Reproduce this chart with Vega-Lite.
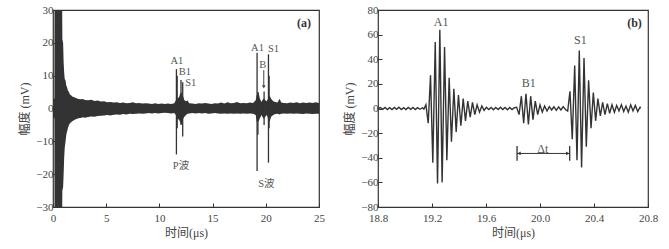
{
 "$schema": "https://vega.github.io/schema/vega-lite/v6.json",
 "background": "white",
 "padding": {"left": 18, "top": 3, "right": 5, "bottom": 3},
 "spacing": 17,
 "config": {
  "view": {"stroke": "#333", "strokeWidth": 1.2},
  "axis": {"labelFont": "Liberation Serif", "labelFontSize": 11, "labelColor": "#444", "titleFont": "Liberation Serif, Noto Sans CJK SC", "titleFontSize": 12, "titleFontWeight": "normal", "titleColor": "#444", "domain": false, "grid": false, "tickSize": -4, "tickColor": "#333", "labelPadding": 4, "labelOverlap": false, "labelFlush": false, "tickCount": 12},
  "axisX": {"labelPadding": 9},
  "text": {"font": "Liberation Serif, Noto Sans CJK SC", "fontSize": 11, "color": "#555"}
 },
 "hconcat": [
  {
   "width": 266, "height": 197,
   "layer": [
    {
     "data": {"values": [
      {"t":0.00,"lo":-2.5,"hi":2.5},{"t":0.08,"lo":-3,"hi":3.2},{"t":0.13,"lo":-3,"hi":3},{"t":0.14,"lo":-32,"hi":32},{"t":0.86,"lo":-32,"hi":32},{"t":0.88,"lo":-25,"hi":21},{"t":0.95,"lo":-24,"hi":20},{"t":1.00,"lo":-20,"hi":14},{"t":1.05,"lo":-15,"hi":11},{"t":1.10,"lo":-12,"hi":9},{"t":1.18,"lo":-10,"hi":8.5},{"t":1.25,"lo":-8,"hi":7},{"t":1.32,"lo":-7,"hi":6.5},{"t":1.40,"lo":-6,"hi":5.5},{"t":1.50,"lo":-5,"hi":5},{"t":1.60,"lo":-4.5,"hi":4.2},{"t":1.70,"lo":-4.2,"hi":4},{"t":1.85,"lo":-3.8,"hi":3.6},{"t":2.00,"lo":-3.5,"hi":3.4},{"t":2.20,"lo":-3.2,"hi":3.1},{"t":2.40,"lo":-3,"hi":2.9},{"t":2.60,"lo":-2.9,"hi":2.8},{"t":2.80,"lo":-2.7,"hi":2.9},{"t":3.00,"lo":-2.8,"hi":2.6},{"t":3.30,"lo":-2.6,"hi":2.5},{"t":3.60,"lo":-2.4,"hi":2.7},{"t":3.90,"lo":-2.5,"hi":2.3},{"t":4.20,"lo":-2.3,"hi":2.4},{"t":4.50,"lo":-2.2,"hi":2.1},{"t":4.80,"lo":-2.1,"hi":2.2},{"t":5.10,"lo":-2.0,"hi":1.9},{"t":5.40,"lo":-2.1,"hi":2.0},{"t":5.70,"lo":-1.9,"hi":1.8},{"t":6.00,"lo":-1.8,"hi":1.9},{"t":6.30,"lo":-1.9,"hi":1.7},{"t":6.60,"lo":-1.7,"hi":1.8},{"t":6.90,"lo":-1.8,"hi":1.6},{"t":7.20,"lo":-1.6,"hi":1.7},{"t":7.50,"lo":-1.7,"hi":1.9},{"t":7.80,"lo":-1.6,"hi":1.6},{"t":8.10,"lo":-1.5,"hi":1.7},{"t":8.40,"lo":-1.6,"hi":1.5},{"t":8.70,"lo":-1.5,"hi":1.6},{"t":9.00,"lo":-1.4,"hi":1.5},{"t":9.30,"lo":-1.5,"hi":1.4},{"t":9.60,"lo":-1.4,"hi":1.6},{"t":9.90,"lo":-1.5,"hi":1.4},{"t":10.20,"lo":-1.4,"hi":1.5},{"t":10.50,"lo":-1.3,"hi":1.4},{"t":10.80,"lo":-1.4,"hi":1.5},{"t":11.10,"lo":-1.5,"hi":1.4},{"t":11.40,"lo":-1.4,"hi":1.6},{"t":11.55,"lo":-2,"hi":2.5},{"t":11.62,"lo":-4,"hi":4},{"t":11.70,"lo":-3,"hi":3},{"t":11.85,"lo":-3.5,"hi":3.5},{"t":11.95,"lo":-4,"hi":4.5},{"t":12.05,"lo":-5,"hi":5},{"t":12.15,"lo":-4,"hi":4},{"t":12.25,"lo":-3,"hi":3.5},{"t":12.35,"lo":-2.5,"hi":2.5},{"t":12.50,"lo":-2,"hi":2.2},{"t":12.65,"lo":-1.6,"hi":2.4},{"t":12.80,"lo":-1.5,"hi":1.6},{"t":13.10,"lo":-1.4,"hi":1.5},{"t":13.40,"lo":-1.5,"hi":1.4},{"t":13.70,"lo":-1.4,"hi":1.6},{"t":14.00,"lo":-1.5,"hi":1.5},{"t":14.30,"lo":-1.4,"hi":1.7},{"t":14.60,"lo":-1.6,"hi":1.5},{"t":14.90,"lo":-1.5,"hi":1.4},{"t":15.20,"lo":-1.4,"hi":1.6},{"t":15.50,"lo":-1.5,"hi":1.5},{"t":15.80,"lo":-1.6,"hi":1.8},{"t":16.10,"lo":-1.5,"hi":1.5},{"t":16.40,"lo":-1.6,"hi":1.9},{"t":16.70,"lo":-1.5,"hi":1.6},{"t":17.00,"lo":-1.6,"hi":1.7},{"t":17.30,"lo":-1.5,"hi":2.0},{"t":17.60,"lo":-1.6,"hi":1.6},{"t":17.90,"lo":-1.5,"hi":1.7},{"t":18.20,"lo":-1.6,"hi":1.6},{"t":18.50,"lo":-1.5,"hi":1.8},{"t":18.80,"lo":-1.6,"hi":1.7},{"t":19.05,"lo":-2,"hi":2.5},{"t":19.15,"lo":-4,"hi":4},{"t":19.30,"lo":-4,"hi":5},{"t":19.45,"lo":-3,"hi":3},{"t":19.60,"lo":-2,"hi":2},{"t":19.75,"lo":-3,"hi":3},{"t":19.85,"lo":-3,"hi":3},{"t":19.95,"lo":-2.5,"hi":2.5},{"t":20.10,"lo":-2,"hi":2.2},{"t":20.20,"lo":-3,"hi":3},{"t":20.35,"lo":-4,"hi":4},{"t":20.50,"lo":-2.5,"hi":3},{"t":20.70,"lo":-2,"hi":2.2},{"t":20.90,"lo":-1.7,"hi":2},{"t":21.10,"lo":-1.6,"hi":1.8},{"t":21.30,"lo":-1.8,"hi":3},{"t":21.45,"lo":-1.6,"hi":1.8},{"t":21.70,"lo":-1.5,"hi":1.7},{"t":22.00,"lo":-1.6,"hi":1.6},{"t":22.30,"lo":-1.5,"hi":1.8},{"t":22.60,"lo":-1.6,"hi":1.7},{"t":22.90,"lo":-1.5,"hi":1.9},{"t":23.20,"lo":-1.6,"hi":1.6},{"t":23.50,"lo":-1.7,"hi":1.8},{"t":23.80,"lo":-1.5,"hi":1.7},{"t":24.10,"lo":-1.6,"hi":1.8},{"t":24.40,"lo":-1.7,"hi":1.7},{"t":24.70,"lo":-1.6,"hi":1.9},{"t":25.00,"lo":-1.6,"hi":1.7}
     ]},
     "mark": {"type": "area", "color": "#333", "clip": true},
     "encoding": {
      "x": {"field": "t", "type": "quantitative", "scale": {"domain": [0, 25], "nice": false}, "axis": {"values": [0, 5, 10, 15, 20, 25], "tickCount": 12, "title": "时间(μs)", "labelOverlap": false}},
      "y": {"field": "lo", "type": "quantitative", "scale": {"domain": [-30, 30], "nice": false}, "axis": {"values": [-30, -20, -10, 0, 10, 20, 30], "tickCount": 12, "title": "幅度 (mV)", "labelOverlap": false}},
      "y2": {"field": "hi"}
     }
    },
    {
     "data": {"values": [
      {"t":11.60,"lo":-14,"hi":12},{"t":11.67,"lo":-6,"hi":10},{"t":12.03,"lo":-5,"hi":8.7},{"t":12.19,"lo":-8.5,"hi":8},{"t":19.18,"lo":-19,"hi":17},{"t":19.26,"lo":-8,"hi":5},{"t":19.84,"lo":-5,"hi":5.2},{"t":20.25,"lo":-16.5,"hi":16.5},{"t":20.31,"lo":-6,"hi":10}
     ]},
     "mark": {"type": "rule", "color": "#333", "strokeWidth": 1.3},
     "encoding": {"x": {"field": "t", "type": "quantitative"}, "y": {"field": "lo", "type": "quantitative"}, "y2": {"field": "hi"}}
    },
    {
     "data": {"values": [{"t": 19.81, "lo": 6.8, "hi": 11.7}]},
     "mark": {"type": "rule", "color": "#444", "strokeWidth": 1},
     "encoding": {"x": {"field": "t", "type": "quantitative"}, "y": {"field": "lo", "type": "quantitative"}, "y2": {"field": "hi"}}
    },
    {
     "data": {"values": [{"t": 19.81, "lo": 6.6}]},
     "mark": {"type": "point", "shape": "triangle-down", "filled": true, "color": "#444", "size": 14, "opacity": 1},
     "encoding": {"x": {"field": "t", "type": "quantitative"}, "y": {"field": "lo", "type": "quantitative"}}
    },
    {
     "data": {"values": [
      {"t":11.65,"lo":14.6,"label":"A1"},{"t":12.40,"lo":11.0,"label":"B1"},{"t":12.95,"lo":7.9,"label":"S1"},{"t":12.03,"lo":-17.4,"label":"P波"},{"t":19.22,"lo":18.3,"label":"A1"},{"t":20.72,"lo":18.0,"label":"S1"},{"t":19.72,"lo":13.2,"label":"B"},{"t":20.06,"lo":-23,"label":"S波"}
     ]},
     "mark": {"type": "text", "baseline": "middle", "align": "center", "fontSize": 10.5},
     "encoding": {"x": {"field": "t", "type": "quantitative"}, "y": {"field": "lo", "type": "quantitative"}, "text": {"field": "label"}}
    },
    {
     "data": {"values": [{"t": 23.59, "lo": 26, "label": "(a)"}]},
     "mark": {"type": "text", "baseline": "middle", "align": "center", "fontSize": 12, "fontWeight": "bold", "color": "#333"},
     "encoding": {"x": {"field": "t", "type": "quantitative"}, "y": {"field": "lo", "type": "quantitative"}, "text": {"field": "label"}}
    }
   ]
  },
  {
   "width": 270, "height": 197,
   "layer": [
    {
     "data": {"values": [
      {"t":18.800,"v":0},{"t":18.817,"v":0.8},{"t":18.835,"v":-0.7},{"t":18.852,"v":0.9},{"t":18.869,"v":-0.8},{"t":18.886,"v":0.7},{"t":18.904,"v":-0.9},{"t":18.921,"v":0.8},{"t":18.938,"v":-0.7},{"t":18.955,"v":1.0},{"t":18.973,"v":-0.8},{"t":18.990,"v":0.6},{"t":19.007,"v":-0.9},{"t":19.024,"v":0.8},{"t":19.042,"v":-0.7},{"t":19.059,"v":0.9},{"t":19.076,"v":-0.8},{"t":19.093,"v":0.7},{"t":19.111,"v":-0.6},{"t":19.128,"v":0.6},{"t":19.140,"v":-0.5},
      {"t":19.155,"v":3},{"t":19.172,"v":-12},{"t":19.189,"v":27},{"t":19.206,"v":-44},{"t":19.224,"v":54},{"t":19.241,"v":-61},{"t":19.258,"v":64},{"t":19.275,"v":-60},{"t":19.293,"v":50},{"t":19.310,"v":-42},{"t":19.327,"v":25},{"t":19.344,"v":-27},{"t":19.362,"v":16},{"t":19.379,"v":-19},{"t":19.396,"v":11},{"t":19.414,"v":-14},{"t":19.431,"v":8},{"t":19.448,"v":-10},{"t":19.465,"v":6},{"t":19.483,"v":-7},{"t":19.500,"v":5},{"t":19.517,"v":-5},{"t":19.534,"v":3},{"t":19.552,"v":-3},{"t":19.569,"v":2},{"t":19.586,"v":-1.5},
      {"t":19.603,"v":1},{"t":19.620,"v":-0.8},{"t":19.638,"v":0.9},{"t":19.655,"v":-1},{"t":19.672,"v":0.8},{"t":19.690,"v":-0.9},{"t":19.707,"v":1},{"t":19.724,"v":-0.8},{"t":19.741,"v":0.9},{"t":19.759,"v":-1},{"t":19.776,"v":0.8},{"t":19.793,"v":-0.9},{"t":19.810,"v":0.7},
      {"t":19.827,"v":1},{"t":19.845,"v":-5},{"t":19.862,"v":10},{"t":19.879,"v":-12},{"t":19.896,"v":12},{"t":19.914,"v":-13},{"t":19.931,"v":10},{"t":19.948,"v":-9},{"t":19.965,"v":6},{"t":19.983,"v":-5},{"t":20.000,"v":3},{"t":20.017,"v":-3},{"t":20.034,"v":2},{"t":20.052,"v":-2},
      {"t":20.069,"v":1.5},{"t":20.086,"v":-1.2},{"t":20.103,"v":1.4},{"t":20.121,"v":-1.5},{"t":20.138,"v":1.3},{"t":20.155,"v":-1.2},{"t":20.172,"v":1.5},{"t":20.190,"v":-1},
      {"t":20.205,"v":-2},{"t":20.222,"v":14},{"t":20.239,"v":-25},{"t":20.257,"v":35},{"t":20.274,"v":-42},{"t":20.291,"v":47},{"t":20.308,"v":-48},{"t":20.326,"v":41},{"t":20.343,"v":-31},{"t":20.360,"v":23},{"t":20.378,"v":-16},{"t":20.395,"v":13},{"t":20.412,"v":-10},{"t":20.429,"v":8},{"t":20.447,"v":-6},{"t":20.464,"v":5},{"t":20.481,"v":-5},{"t":20.499,"v":4},{"t":20.516,"v":-4},
      {"t":20.533,"v":3},{"t":20.551,"v":-3},{"t":20.568,"v":2.5},{"t":20.585,"v":-2},{"t":20.603,"v":3},{"t":20.620,"v":-2.5},{"t":20.637,"v":2},{"t":20.654,"v":-3},{"t":20.672,"v":3},{"t":20.689,"v":-2},{"t":20.706,"v":2.5},{"t":20.724,"v":-2.5},{"t":20.741,"v":1},{"t":20.745,"v":0}
     ]},
     "mark": {"type": "line", "color": "#333", "strokeWidth": 1.4},
     "encoding": {
      "x": {"field": "t", "type": "quantitative", "scale": {"domain": [18.8, 20.8], "nice": false}, "axis": {"values": [18.8, 19.2, 19.6, 20.0, 20.4, 20.8], "tickCount": 12, "format": ".1f", "title": "时间(μs)", "labelOverlap": false}},
      "y": {"field": "v", "type": "quantitative", "scale": {"domain": [-80, 80], "nice": false}, "axis": {"values": [-80, -60, -40, -20, 0, 20, 40, 60, 80], "tickCount": 12, "title": "幅度 (mV)", "labelOverlap": false}}
     }
    },
    {
     "data": {"values": [{"t": 19.83, "v": -30.5, "v2": -42.5}, {"t": 20.22, "v": -30.5, "v2": -42.5}]},
     "mark": {"type": "rule", "color": "#333", "strokeWidth": 1.3},
     "encoding": {"x": {"field": "t", "type": "quantitative"}, "y": {"field": "v", "type": "quantitative"}, "y2": {"field": "v2"}}
    },
    {
     "data": {"values": [{"t": 19.83, "t2": 20.22, "v": -36.5}]},
     "mark": {"type": "rule", "color": "#333", "strokeWidth": 1},
     "encoding": {"x": {"field": "t", "type": "quantitative"}, "x2": {"field": "t2"}, "y": {"field": "v", "type": "quantitative"}}
    },
    {
     "data": {"values": [{"t": 19.845, "v": -36.5, "s": "triangle-left"}, {"t": 20.205, "v": -36.5, "s": "triangle-right"}]},
     "mark": {"type": "point", "filled": true, "color": "#333", "size": 14, "opacity": 1},
     "encoding": {"x": {"field": "t", "type": "quantitative"}, "y": {"field": "v", "type": "quantitative"}, "shape": {"field": "s", "type": "nominal", "scale": null}}
    },
    {
     "data": {"values": [
      {"t":19.267,"v":70.5,"label":"A1"},{"t":19.916,"v":21,"label":"B1"},{"t":20.299,"v":55.6,"label":"S1"},{"t":20.02,"v":-32.9,"label":"Δt"}
     ]},
     "mark": {"type": "text", "baseline": "middle", "align": "center", "fontSize": 12},
     "encoding": {"x": {"field": "t", "type": "quantitative"}, "y": {"field": "v", "type": "quantitative"}, "text": {"field": "label"}}
    },
    {
     "data": {"values": [{"t": 20.70, "v": 69.7, "label": "(b)"}]},
     "mark": {"type": "text", "baseline": "middle", "align": "center", "fontSize": 12, "fontWeight": "bold", "color": "#333"},
     "encoding": {"x": {"field": "t", "type": "quantitative"}, "y": {"field": "v", "type": "quantitative"}, "text": {"field": "label"}}
    }
   ]
  }
 ]
}
